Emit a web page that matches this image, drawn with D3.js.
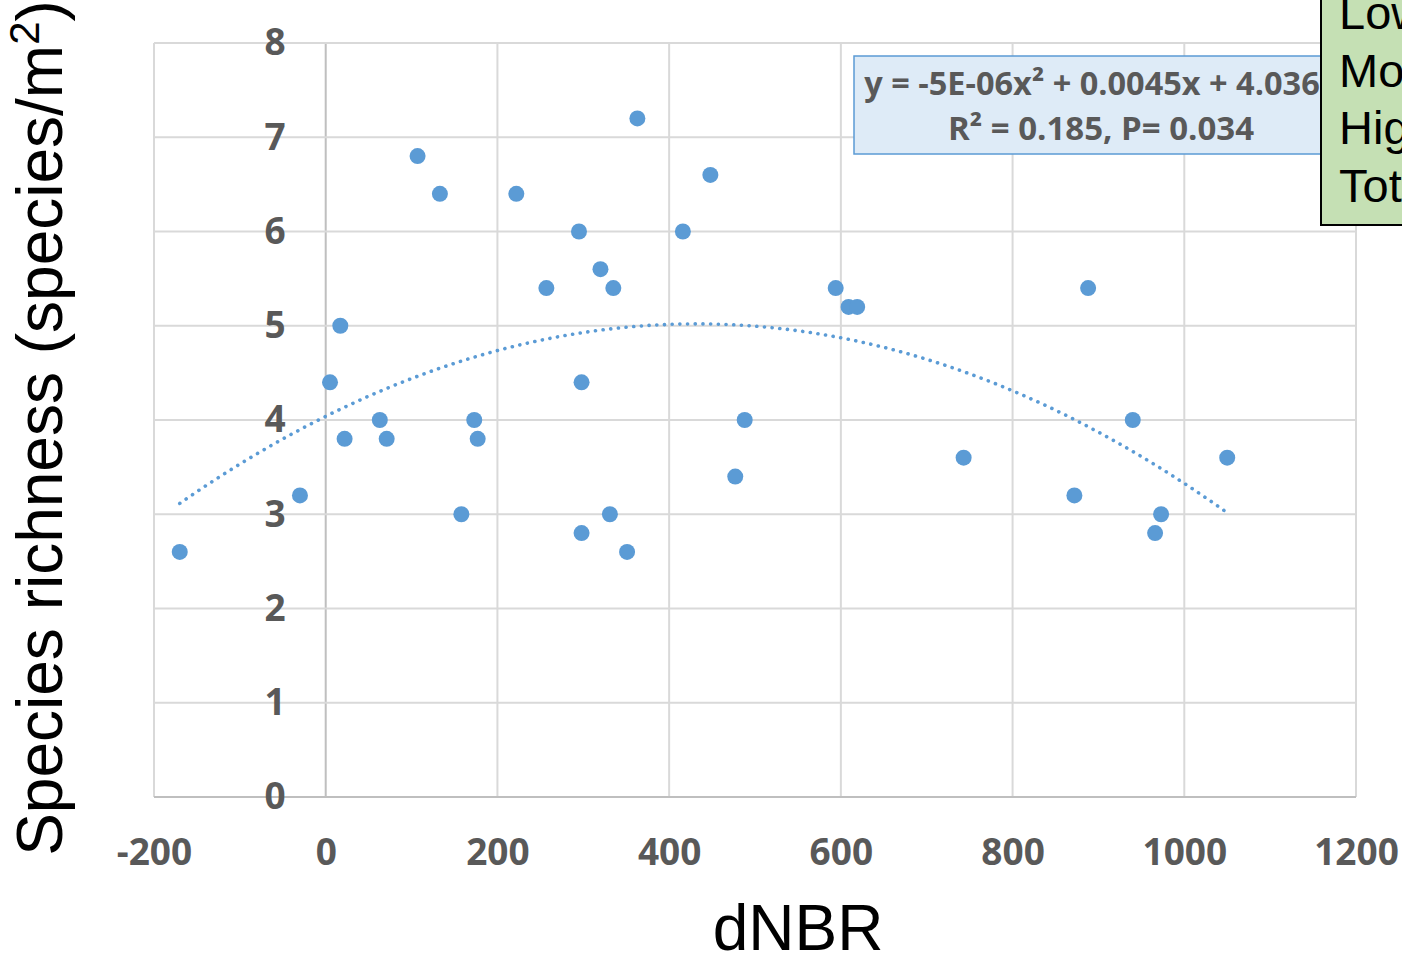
<!DOCTYPE html>
<html>
<head>
<meta charset="utf-8">
<script src="https://cdn.jsdelivr.net/npm/d3@7"></script>
<style>
  body { margin: 0; background: #fff; }
  svg { display: block; }
</style>
</head>
<body>
<div id="chart"></div>
<script>
// data
var dnbr = [-170, -30, 5, 17, 22, 63, 71, 107, 133, 158, 173, 177, 222, 257, 295, 298, 298, 320,
            331, 335, 351, 363, 416, 448, 477, 488, 594, 609, 619, 743, 872, 888, 940, 966, 973, 1050];
var richness = [2.6, 3.2, 4.4, 5.0, 3.8, 4.0, 3.8, 6.8, 6.4, 3.0, 4.0, 3.8, 6.4, 5.4, 6.0, 4.4, 2.8, 5.6,
                3.0, 5.4, 2.6, 7.2, 6.0, 6.6, 3.4, 4.0, 5.4, 5.2, 5.2, 3.6, 3.2, 5.4, 4.0, 2.8, 3.0, 3.6];
var xTicks = [-200, 0, 200, 400, 600, 800, 1000, 1200];
var yTicks = [0, 1, 2, 3, 4, 5, 6, 7, 8];
var eqLines = ["y = -5E-06x\u00B2 + 0.0045x + 4.036", "R\u00B2 = 0.185, P= 0.034"];
var legendLabels = ["Low", "Moderate", "High", "Total"];

var W = 1402, H = 956;
var margin = {top: 43, right: 46, bottom: 159, left: 154},
    width = W - margin.left - margin.right,
    height = H - margin.top - margin.bottom;

var svg = d3.select("#chart").append("svg")
    .attr("width", W)
    .attr("height", H);

var g = svg.append("g")
    .attr("transform", "translate(" + margin.left + "," + margin.top + ")");

var x = d3.scaleLinear().domain([-200, 1200]).range([0, width]);
var y = d3.scaleLinear().domain([0, 8]).range([height, 0]);

// gridlines
g.selectAll(".vgrid").data(xTicks).enter().append("line")
    .attr("x1", d => x(d)).attr("x2", d => x(d))
    .attr("y1", 0).attr("y2", height)
    .attr("stroke", d => d === 0 ? "#bfbfbf" : "#d9d9d9")
    .attr("stroke-width", 2);
g.selectAll(".hgrid").data(yTicks).enter().append("line")
    .attr("x1", 0).attr("x2", width)
    .attr("y1", d => y(d)).attr("y2", d => y(d))
    .attr("stroke", d => d === 0 ? "#bfbfbf" : "#d9d9d9")
    .attr("stroke-width", 2);

// x axis labels
var xAxis = g.append("g")
    .attr("transform", "translate(0," + height + ")")
    .call(d3.axisBottom(x).tickValues(xTicks).tickFormat(d => String(d)).tickSize(0).tickPadding(42));
xAxis.select(".domain").remove();
xAxis.selectAll("text")
    .attr("fill", "#595959")
    .style("font-family", "'Open Sans', sans-serif")
    .style("font-weight", 700)
    .style("font-size", "37px");

// y axis labels sit next to the x=0 line
var yAxis = g.append("g")
    .attr("transform", "translate(" + x(0) + ",0)")
    .call(d3.axisLeft(y).tickValues(yTicks).tickFormat(d => String(d)).tickSize(0).tickPadding(40));
yAxis.select(".domain").remove();
yAxis.selectAll("text")
    .attr("fill", "#595959")
    .style("font-family", "'Open Sans', sans-serif")
    .style("font-weight", 700)
    .style("font-size", "37px");

// quadratic trend fitted from the points (least squares)
function fitQuad(xs, ys) {
  var n = xs.length, s = [0, 0, 0, 0, 0], t = [0, 0, 0];
  for (var i = 0; i < n; i++) {
    var xi = xs[i];
    for (var k = 0; k <= 4; k++) s[k] += Math.pow(xi, k);
    for (var k = 0; k <= 2; k++) t[k] += ys[i] * Math.pow(xi, k);
  }
  var A = [[s[0], s[1], s[2], t[0]], [s[1], s[2], s[3], t[1]], [s[2], s[3], s[4], t[2]]];
  for (var c = 0; c < 3; c++) {
    for (var r = c + 1; r < 3; r++) {
      var f = A[r][c] / A[c][c];
      for (var j = c; j < 4; j++) A[r][j] -= f * A[c][j];
    }
  }
  var b = [0, 0, 0];
  for (var r = 2; r >= 0; r--) {
    var v = A[r][3];
    for (var j = r + 1; j < 3; j++) v -= A[r][j] * b[j];
    b[r] = v / A[r][r];
  }
  return b; // c0, c1, c2
}
var coef = fitQuad(dnbr, richness);
var xs = d3.extent(dnbr);
var trend = d3.range(0, 121).map(function(i) {
  var xv = xs[0] + (xs[1] - xs[0]) * i / 120;
  return [xv, coef[0] + coef[1] * xv + coef[2] * xv * xv];
});
g.append("path")
    .datum(trend)
    .attr("fill", "none")
    .attr("stroke", "#5b9bd5")
    .attr("stroke-width", 3.6)
    .attr("stroke-linecap", "round")
    .attr("stroke-dasharray", "0.1 7.6")
    .attr("d", d3.line().x(d => x(d[0])).y(d => y(d[1])));

// points
g.selectAll("circle").data(dnbr).enter().append("circle")
    .attr("cx", d => x(d))
    .attr("cy", (d, i) => y(richness[i]))
    .attr("r", 8)
    .attr("fill", "#5b9bd5");

// equation box
var eq = svg.append("g");
eq.append("rect")
    .attr("x", 854).attr("y", 56).attr("width", 494).attr("height", 98)
    .attr("fill", "#deebf7")
    .attr("stroke", "#5b9bd5")
    .attr("stroke-width", 1.5);
eq.selectAll("text").data(eqLines).enter().append("text")
    .attr("x", (d, i) => i === 0 ? 1092 : 1101)
    .attr("y", (d, i) => 95 + i * 45)
    .attr("text-anchor", "middle")
    .attr("fill", "#595959")
    .style("font-family", "'Open Sans', sans-serif")
    .style("font-weight", 700)
    .style("font-size", (d, i) => i === 0 ? "32.5px" : "33px")
    .text(d => d);

// legend box (cut off at the right edge)
var leg = svg.append("g");
leg.append("rect")
    .attr("x", 1321).attr("y", -10).attr("width", 200).attr("height", 235)
    .attr("fill", "#c5e0b4")
    .attr("stroke", "#000")
    .attr("stroke-width", 2);
leg.selectAll("text").data(legendLabels).enter().append("text")
    .attr("x", 1339)
    .attr("y", (d, i) => 29 + i * 57.5)
    .attr("fill", "#000")
    .style("font-family", "'Liberation Sans', Arial, sans-serif")
    .style("font-size", "47px")
    .text(d => d);

// axis titles
svg.append("text")
    .attr("x", 798)
    .attr("y", 950)
    .attr("text-anchor", "middle")
    .attr("fill", "#000")
    .style("font-family", "'Liberation Sans', Arial, sans-serif")
    .style("font-size", "64px")
    .text("dNBR");

var yt = svg.append("text")
    .attr("transform", "translate(62," + 428 + ") rotate(-90)")
    .attr("text-anchor", "middle")
    .attr("fill", "#000")
    .style("font-family", "'Liberation Sans', Arial, sans-serif")
    .style("font-size", "64px");
yt.append("tspan").text("Species richness (species/m");
yt.append("tspan").attr("baseline-shift", "super").style("font-size", "42px").text("2");
yt.append("tspan").text(")");
</script>
</body>
</html>
